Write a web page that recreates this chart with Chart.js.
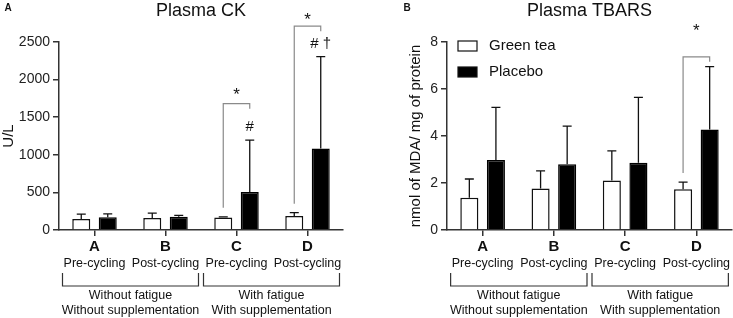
<!DOCTYPE html>
<html>
<head>
<meta charset="utf-8">
<script src="https://cdn.jsdelivr.net/npm/chart.js@4"></script>
<style>
body { margin: 0; background: #fff; }
#boxA { position: absolute; left: 0; top: 0; }
#boxB { position: absolute; left: 366px; top: 0; }
</style>
</head>
<body>
<canvas id="boxA" width="366" height="318"></canvas>
<canvas id="boxB" width="367" height="318"></canvas>
<script>
const categories = ['A', 'B', 'C', 'D'];
const phases = ['Pre-cycling', 'Post-cycling', 'Pre-cycling', 'Post-cycling'];
const groups = [['Without fatigue', 'Without supplementation'], ['With fatigue', 'With supplementation']];
const seriesNames = ['Green tea', 'Placebo'];

// Plasma CK (U/L)
const ckGreenTea = [145, 160, 165, 185];
const ckGreenTeaSd = [65, 65, 10, 45];
const ckPlacebo = [170, 175, 505, 1085];
const ckPlaceboSd = [45, 20, 690, 1220];
const ckBracketTop = [null, null, 1680, 2710];
const ckStar = [null, null, 1830, 2830];
const ckMarks = ['', '', '#', '# †'];
const ckTicks = [0, 500, 1000, 1500, 2000, 2500];

// Plasma TBARS (nmol MDA / mg protein)
const tbGreenTea = [1.37, 1.77, 2.11, 1.73];
const tbGreenTeaSd = [0.80, 0.75, 1.26, 0.31];
const tbPlacebo = [2.98, 2.80, 2.86, 4.28];
const tbPlaceboSd = [2.24, 1.62, 2.78, 2.67];
const tbBracketTop = [null, null, null, 7.37];
const tbStar = [null, null, null, 8.57];
const tbMarks = ['', '', '', ''];
const tbTicks = [0, 2, 4, 6, 8];

const FONT = "'Liberation Sans', Arial, sans-serif";

const decor = {
    id: 'decor',
    afterDatasetsDraw(chart, args, o) {
        const ctx = chart.ctx;
        const y = chart.scales.y;
        const white = chart.getDatasetMeta(0).data;
        const black = chart.getDatasetMeta(1).data;
        ctx.save();
        // error bars (upper whisker only)
        ctx.strokeStyle = '#111';
        ctx.lineWidth = 1.3;
        [o.sd[0], o.sd[1]].forEach((sd, i) => {
            const ds = chart.data.datasets[i].data;
            chart.getDatasetMeta(i).data.forEach((bar, j) => {
                const top = y.getPixelForValue(ds[j] + sd[j]);
                ctx.beginPath();
                ctx.moveTo(bar.x, bar.y);
                ctx.lineTo(bar.x, top);
                ctx.moveTo(bar.x - 4.5, top);
                ctx.lineTo(bar.x + 4.5, top);
                ctx.stroke();
            });
        });
        // significance brackets
        ctx.strokeStyle = '#8a8a8a';
        ctx.lineWidth = 1.2;
        ctx.fillStyle = '#111';
        ctx.textAlign = 'center';
        ctx.textBaseline = 'middle';
        o.bracketTop.forEach((v, j) => {
            if (v === null) return;
            const g = chart.data.datasets[0].data[j] + o.sd[0][j];
            const xl = white[j].x, xr = black[j].x;
            const yt = y.getPixelForValue(v);
            ctx.beginPath();
            ctx.moveTo(xl, y.getPixelForValue(g) - 9);
            ctx.lineTo(xl, yt);
            ctx.lineTo(xr, yt);
            ctx.lineTo(xr, yt + 5);
            ctx.stroke();
            ctx.font = '17px ' + FONT;
            ctx.fillText('*', (xl + xr) / 2, y.getPixelForValue(o.star[j]) + 3);
        });
        ctx.font = '15px ' + FONT;
        o.marks.forEach((m, j) => {
            if (!m) return;
            const p = chart.data.datasets[1].data[j] + o.sd[1][j];
            ctx.fillText(m, black[j].x, y.getPixelForValue(p) - 13);
        });
        ctx.restore();
    },
    afterDraw(chart, args, o) {
        const ctx = chart.ctx;
        const area = chart.chartArea;
        const x = chart.scales.x;
        const xs = categories.map((c, i) => x.getPixelForTick(i));
        ctx.save();
        ctx.fillStyle = '#111';
        ctx.textAlign = 'center';
        ctx.textBaseline = 'middle';
        ctx.font = '18px ' + FONT;
        ctx.fillText(o.title, (area.left + area.right) / 2, 11);
        ctx.font = 'bold 10px ' + FONT;
        ctx.fillText(o.letter, o.letterX, 8);

        ctx.font = '12.5px ' + FONT;
        phases.forEach((p, i) => ctx.fillText(p, xs[i], area.bottom + 34));

        const mid = (xs[1] + xs[2]) / 2;
        const spans = [[xs[0] - 32, mid - 2.5], [mid + 2.5, xs[3] + 32]];
        ctx.strokeStyle = '#333';
        ctx.lineWidth = 1.2;
        spans.forEach((s, k) => {
            const yb = area.bottom + 56;
            ctx.beginPath();
            ctx.moveTo(s[0], area.bottom + 43);
            ctx.lineTo(s[0], yb);
            ctx.lineTo(s[1], yb);
            ctx.lineTo(s[1], area.bottom + 43);
            ctx.stroke();
            const cx = (s[0] + s[1]) / 2;
            ctx.fillText(groups[k][0], cx, area.bottom + 66);
            ctx.fillText(groups[k][1], cx, area.bottom + 81);
        });

        if (o.legend) {
            ctx.font = '15px ' + FONT;
            ctx.textAlign = 'left';
            chart.data.datasets.forEach((ds, i) => {
                const yy = area.top + 4 + i * 26;
                ctx.fillStyle = ds.backgroundColor;
                ctx.fillRect(area.left + 11, yy - 5, 19, 10);
                ctx.strokeStyle = '#111';
                ctx.lineWidth = 1.2;
                ctx.strokeRect(area.left + 11, yy - 5, 19, 10);
                ctx.fillStyle = '#111';
                ctx.fillText(ds.label, area.left + 42, yy);
            });
        }
        ctx.restore();
    }
};

function makeChart(id, opt) {
    return new Chart(document.getElementById(id), {
        type: 'bar',
        data: {
            labels: categories,
            datasets: [{
                label: seriesNames[0],
                data: opt.green,
                backgroundColor: '#ffffff',
                borderColor: '#111',
                borderWidth: 1.5,
                categoryPercentage: 0.746,
                barPercentage: 0.68
            }, {
                label: seriesNames[1],
                data: opt.placebo,
                backgroundColor: '#000000',
                borderColor: '#000',
                borderWidth: 1.5,
                categoryPercentage: 0.746,
                barPercentage: 0.68
            }]
        },
        options: {
            responsive: false,
            animation: false,
            layout: { padding: { top: 42, bottom: 0, left: opt.padLeft, right: opt.padRight } },
            plugins: {
                legend: { display: false },
                tooltip: { enabled: false },
                decor: opt.decor
            },
            scales: {
                x: {
                    offset: true,
                    grid: { offset: false, drawOnChartArea: false, drawTicks: true, tickLength: 6, color: '#333', lineWidth: 1.5 },
                    border: { color: '#333', width: 1.5 },
                    ticks: { font: { family: FONT, size: 15, weight: 'bold' }, color: '#111', padding: 2 },
                    afterFit: s => { s.height = 88; }
                },
                y: {
                    min: 0,
                    max: opt.ticks[opt.ticks.length - 1],
                    afterBuildTicks: s => { s.ticks = opt.ticks.map(v => ({ value: v })); },
                    grid: { drawOnChartArea: false, drawTicks: true, tickLength: 6, color: '#333', lineWidth: 1.5 },
                    border: { color: '#333', width: 1.5 },
                    ticks: { font: { family: FONT, size: 14 }, color: '#222', padding: 3, callback: v => String(v) },
                    title: { display: true, text: opt.yTitle, font: { family: FONT, size: 15 }, color: '#111', padding: 0 },
                    afterFit: s => { s.width = opt.yWidth; }
                }
            }
        },
        plugins: [decor]
    });
}

makeChart('boxA', {
    green: ckGreenTea,
    placebo: ckPlacebo,
    ticks: ckTicks,
    yTitle: 'U/L',
    padLeft: 0,
    padRight: 23,
    yWidth: 59,
    decor: {
        sd: [ckGreenTeaSd, ckPlaceboSd],
        bracketTop: ckBracketTop,
        star: ckStar,
        marks: ckMarks,
        title: 'Plasma CK',
        letter: 'A',
        letterX: 8,
        legend: false
    }
});

makeChart('boxB', {
    green: tbGreenTea,
    placebo: tbPlacebo,
    ticks: tbTicks,
    yTitle: 'nmol of MDA/ mg of protein',
    padLeft: 41,
    padRight: 1,
    yWidth: 40,
    decor: {
        sd: [tbGreenTeaSd, tbPlaceboSd],
        bracketTop: tbBracketTop,
        star: tbStar,
        marks: tbMarks,
        title: 'Plasma TBARS',
        letter: 'B',
        letterX: 41,
        legend: true
    }
});
</script>
</body>
</html>
